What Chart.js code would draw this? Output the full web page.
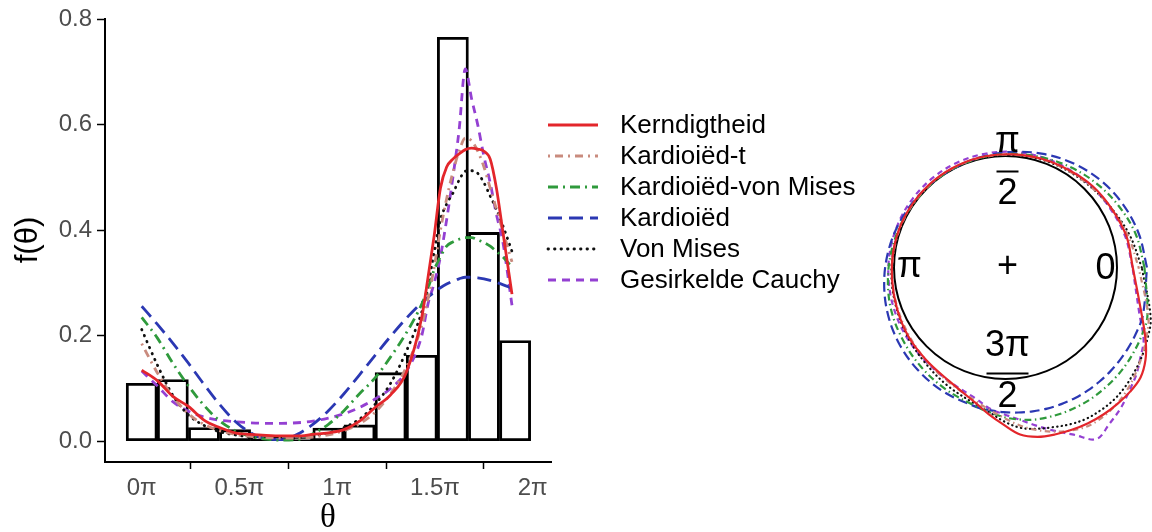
<!DOCTYPE html>
<html>
<head>
<meta charset="utf-8">
<script src="https://cdn.jsdelivr.net/npm/chart.js@4.4.1/dist/chart.umd.min.js"></script>
<style>
  html, body { margin: 0; padding: 0; background: #fff; }
  #wrap { position: relative; width: 1152px; height: 532px; overflow: hidden; }
  #left { position: absolute; left: 0; top: 0; }
  #right { position: absolute; left: 860px; top: 0; }
</style>
</head>
<body>
<div id="wrap">
  <canvas id="left" width="860" height="532"></canvas>
  <canvas id="right" width="292" height="532"></canvas>
</div>
<script>
// histogram (bins of 0.5 rad)
const binCenters = [0, 0.5, 1.0, 1.5, 2.0, 2.5, 3.0, 3.5, 4.0, 4.5, 5.0, 5.5, 6.0];
const binHeights = [0.110, 0.117, 0.026, 0.022, 0.009, 0.007, 0.025, 0.031, 0.130, 0.163, 0.766, 0.396, 0.191];

// fitted densities
const theta = [0, 0.25, 0.5, 0.75, 1, 1.25, 1.5, 1.75, 2, 2.25, 2.5, 2.75, 3, 3.25, 3.5, 3.75, 4, 4.25,
  4.5, 4.6, 4.7, 4.8, 4.9, 5, 5.1, 5.2, 5.3, 5.4, 5.5, 5.6, 5.7, 5.8, 5.95];
const kerndigtheid = [0.135, 0.115, 0.085, 0.066, 0.040, 0.026, 0.016, 0.013, 0.011, 0.010, 0.010, 0.013, 0.016,
  0.022, 0.038, 0.064, 0.088, 0.13, 0.235, 0.31, 0.39, 0.48, 0.52, 0.535, 0.545, 0.553, 0.556, 0.554, 0.55,
  0.535, 0.48, 0.40, 0.279];
const kardioiedT = [0.185, 0.13, 0.085, 0.052, 0.032, 0.02, 0.013, 0.009, 0.007, 0.006, 0.006, 0.008, 0.012,
  0.02, 0.033, 0.055, 0.09, 0.14, 0.22, 0.27, 0.33, 0.40, 0.46, 0.51, 0.55, 0.575, 0.57, 0.55, 0.52, 0.48,
  0.44, 0.40, 0.34];
const kardioiedVM = [0.235, 0.196, 0.148, 0.105, 0.068, 0.039, 0.02, 0.009, 0.004, 0.002, 0.003, 0.014, 0.032,
  0.058, 0.09, 0.12, 0.16, 0.205, 0.26, 0.29, 0.325, 0.35, 0.37, 0.378, 0.383, 0.386, 0.386, 0.382, 0.377,
  0.37, 0.36, 0.35, 0.33];
const kardioied = [0.256, 0.222, 0.186, 0.148, 0.108, 0.07, 0.038, 0.016, 0.004, 0.003, 0.013, 0.032, 0.058,
  0.09, 0.126, 0.163, 0.199, 0.233, 0.263, 0.273, 0.283, 0.291, 0.298, 0.304, 0.308, 0.311, 0.311, 0.31,
  0.308, 0.305, 0.301, 0.297, 0.29];
const vonMises = [0.212, 0.145, 0.087, 0.05, 0.03, 0.018, 0.012, 0.008, 0.005, 0.004, 0.006, 0.01, 0.016,
  0.026, 0.042, 0.07, 0.11, 0.17, 0.245, 0.29, 0.36, 0.42, 0.45, 0.47, 0.495, 0.512, 0.513, 0.508, 0.49,
  0.465, 0.44, 0.41, 0.36];
const cauchy = [0.133, 0.105, 0.075, 0.057, 0.046, 0.04, 0.037, 0.035, 0.034, 0.034, 0.035, 0.038, 0.044,
  0.052, 0.064, 0.08, 0.1, 0.132, 0.2, 0.26, 0.3, 0.35, 0.42, 0.5, 0.59, 0.706, 0.65, 0.6, 0.54, 0.49,
  0.43, 0.38, 0.258];

const xTicks = [0, Math.PI / 2, Math.PI, 1.5 * Math.PI, 2 * Math.PI];
const xTickLabels = ["0\u03c0", "0.5\u03c0", "1\u03c0", "1.5\u03c0", "2\u03c0"];
const yTicks = [0, 0.2, 0.4, 0.6, 0.8];

const series = [
  { label: "Kerndigtheid", data: kerndigtheid, color: "#e3262b", dash: [], cap: "butt" },
  { label: "Kardioi\u00ebd-t", data: kardioiedT, color: "#c98b7e", dash: [2, 5, 8, 5], cap: "butt" },
  { label: "Kardioi\u00ebd-von Mises", data: kardioiedVM, color: "#2f9a3c", dash: [10, 5, 2, 5], cap: "butt" },
  { label: "Kardioi\u00ebd", data: kardioied, color: "#2b38b3", dash: [14, 7], cap: "butt" },
  { label: "Von Mises", data: vonMises, color: "#111111", dash: [0.5, 6], cap: "round" },
  { label: "Gesirkelde Cauchy", data: cauchy, color: "#9440d2", dash: [8, 6], cap: "butt" },
];

const FONT = "'Liberation Sans', Arial, sans-serif";

// Left panel ---------------------------------------------
const lineSets = series.map((s, i) => ({
  type: "line",
  label: s.label,
  data: theta.map((t, j) => ({ x: t, y: s.data[j] })),
  borderColor: s.color,
  borderWidth: 2.8,
  borderDash: s.dash,
  borderCapStyle: s.cap,
  pointRadius: 0,
  cubicInterpolationMode: "monotone",
  fill: false,
  order: i,
}));

const decorLeft = {
  id: "decorLeft",
  afterDraw(chart) {
    const ctx = chart.ctx;
    ctx.save();
    // axis titles
    ctx.fillStyle = "#000";
    ctx.textAlign = "center";
    ctx.textBaseline = "middle";
    ctx.font = "31px " + FONT;
    ctx.translate(28, 240);
    ctx.rotate(-Math.PI / 2);
    ctx.fillText("f(\u03b8)", 0, 0);
    ctx.setTransform(1, 0, 0, 1, 0, 0);
    ctx.font = "33px 'Liberation Serif', 'DejaVu Serif', serif";
    ctx.fillText("\u03b8", 328, 518);

    // legend
    ctx.font = "26px " + FONT;
    ctx.textAlign = "left";
    series.forEach((s, i) => {
      const y = 125 + i * 31;
      ctx.beginPath();
      ctx.strokeStyle = s.color;
      ctx.lineWidth = 2.8;
      ctx.lineCap = s.cap;
      ctx.setLineDash(s.dash);
      ctx.moveTo(548, y);
      ctx.lineTo(598, y);
      ctx.stroke();
      ctx.setLineDash([]);
      ctx.fillStyle = "#000";
      ctx.fillText(s.label, 620, y + 1);
    });
    ctx.restore();
  },
};

new Chart(document.getElementById("left"), {
  type: "bar",
  data: {
    datasets: [
      {
        type: "bar",
        data: binCenters.map((c, i) => ({ x: c, y: binHeights[i] })),
        backgroundColor: "rgba(255,255,255,0)",
        borderColor: "#000",
        borderWidth: 2.2,
        borderSkipped: false,
        barPercentage: 1,
        categoryPercentage: 1,
        order: 10,
      },
      ...lineSets,
    ],
  },
  options: {
    responsive: false,
    animation: false,
    layout: { padding: { left: 0, right: 309, top: 15, bottom: 0 } },
    plugins: { legend: { display: false }, tooltip: { enabled: false } },
    scales: {
      x: {
        type: "linear",
        min: -0.59,
        max: 6.577,
        offset: false,
        afterBuildTicks: (scale) => {
          scale.ticks = xTicks.map((v) => ({ value: v }));
        },
        afterFit: (scale) => {
          scale.height = 70;
        },
        ticks: {
          autoSkip: false,
          maxRotation: 0,
          padding: 5,
          color: "#4d4d4d",
          font: { size: 24, family: FONT },
          callback: (v, i) => xTickLabels[i],
        },
        grid: { drawOnChartArea: false, tickLength: 7, tickColor: "#000", tickWidth: 1.5 },
        border: { color: "#000", width: 2 },
      },
      y: {
        min: -0.0394,
        max: 0.8,
        afterBuildTicks: (scale) => {
          scale.ticks = yTicks.map((v) => ({ value: v }));
        },
        afterFit: (scale) => {
          scale.width = 105;
        },
        ticks: {
          padding: 5,
          color: "#4d4d4d",
          font: { size: 24, family: FONT },
          callback: (v) => v.toFixed(1),
        },
        grid: { drawOnChartArea: false, tickLength: 8, tickColor: "#000", tickWidth: 1.5 },
        border: { color: "#000", width: 2 },
      },
    },
  },
  plugins: [decorLeft],
});

// Right panel: circular plot ------------------------------
const shrink = 1.05;
const polarSets = series.map((s, i) => {
  const pts = theta.map((t, j) => {
    const r = 1 + shrink * s.data[j];
    return { x: r * Math.cos(t), y: r * Math.sin(t) };
  });
  pts.push({ x: pts[0].x, y: pts[0].y });
  return {
    label: s.label,
    data: pts,
    showLine: true,
    borderColor: s.color,
    borderWidth: 2.2,
    borderDash: s.dash.map((d) => d * 0.7),
    borderCapStyle: s.cap,
    pointRadius: 0,
    tension: 0.35,
    order: i,
  };
});

const decorRight = {
  id: "decorRight",
  beforeDatasetsDraw(chart) {
    const ctx = chart.ctx;
    const sx = chart.scales.x, sy = chart.scales.y;
    const cx = sx.getPixelForValue(0), cy = sy.getPixelForValue(0);
    const R = sx.getPixelForValue(1) - cx;
    ctx.save();
    ctx.beginPath();
    ctx.strokeStyle = "#000";
    ctx.lineWidth = 2;
    ctx.arc(cx, cy, R, 0, 2 * Math.PI);
    ctx.stroke();
    ctx.restore();
  },
  afterDraw(chart) {
    const ctx = chart.ctx;
    const sx = chart.scales.x, sy = chart.scales.y;
    const cx = sx.getPixelForValue(0), cy = sy.getPixelForValue(0);
    ctx.save();
    ctx.fillStyle = "#000";
    ctx.textAlign = "center";
    ctx.textBaseline = "middle";
    ctx.font = "36px " + FONT;
    ctx.fillText("\u03c0", cx + 2, cy - 125);
    ctx.fillText("2", cx + 2, cy - 73);
    ctx.fillText("\u03c0", cx - 96, cy);
    ctx.fillText("0", cx + 100, cy + 2);
    ctx.fillText("+", cx + 2, cy);
    ctx.fillText("3\u03c0", cx + 2, cy + 79);
    ctx.fillText("2", cx + 2, cy + 130);
    ctx.fillRect(cx - 9, cy - 97, 22, 2);
    ctx.fillRect(cx - 19, cy + 105, 42, 2);
    ctx.restore();
  },
};

new Chart(document.getElementById("right"), {
  type: "scatter",
  data: { datasets: polarSets },
  options: {
    responsive: false,
    animation: false,
    layout: { padding: 0 },
    plugins: { legend: { display: false }, tooltip: { enabled: false } },
    scales: {
      x: { type: "linear", min: -1.305, max: 1.314, display: false },
      y: { type: "linear", min: -2.372, max: 2.399, display: false },
    },
  },
  plugins: [decorRight],
});
</script>
</body>
</html>
